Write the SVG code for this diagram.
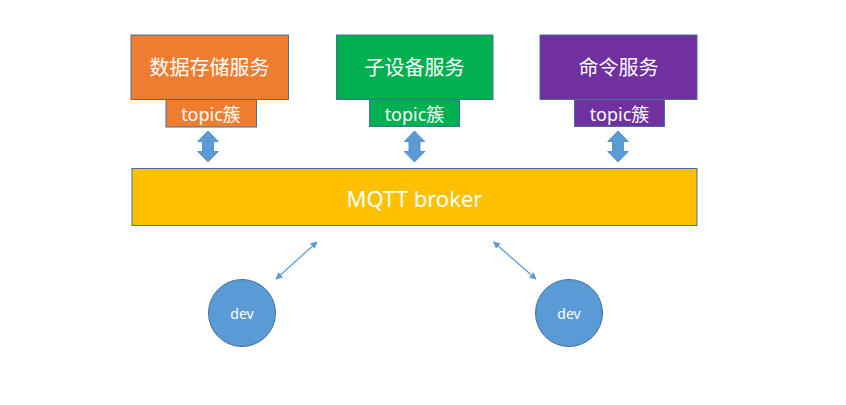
<svg xmlns="http://www.w3.org/2000/svg" width="846" height="405" viewBox="0 0 846 405">
<defs>
<style>
.box{stroke:#41719C;stroke-width:1}
.t{fill:#fff;font-family:"Noto Sans","Noto Sans CJK SC",sans-serif;text-anchor:middle;dominant-baseline:central}
.big{font-size:20px}
.tp{font-size:18px}
.dbl{fill:#5B9BD5;stroke:#4A85BE;stroke-width:0.8}
.thin{stroke:#5B9BD5;stroke-width:1.2;fill:none;marker-start:url(#ah);marker-end:url(#ah)}
</style>
<marker id="ah" viewBox="0 0 10 10" refX="9" refY="5" markerWidth="7" markerHeight="7" markerUnits="userSpaceOnUse" orient="auto-start-reverse">
<path d="M0,0 L10,5 L0,10 z" fill="#5B9BD5"/>
</marker>
<path id="dbla" d="M0,-15.5 L10.3,-5 L5.5,-5 L5.5,5 L10.3,5 L0,15.5 L-10.3,5 L-5.5,5 L-5.5,-5 L-10.3,-5 Z"/>
</defs>
<rect width="846" height="405" fill="#fff"/>
<g id="svc-storage">
<rect class="box" x="131" y="35" width="157.5" height="64.5" fill="#ED7D31"/>
<text class="t big" x="209.5" y="67.5">数据存储服务</text>
<rect class="box" x="166" y="99.5" width="90.5" height="27.5" fill="#ED7D31"/>
<text class="t tp" x="211" y="113.5">topic簇</text>
</g>
<g id="svc-subdevice">
<rect class="box" x="336.5" y="35" width="156.5" height="64.5" fill="#00B050"/>
<text class="t big" x="414.5" y="67.5">子设备服务</text>
<rect class="box" x="369.5" y="99.5" width="90" height="27" fill="#00B050"/>
<text class="t tp" x="414.5" y="113.5">topic簇</text>
</g>
<g id="svc-command">
<rect class="box" x="540" y="35" width="157" height="64.5" fill="#7030A0"/>
<text class="t big" x="618.5" y="67.5">命令服务</text>
<rect class="box" x="574.5" y="99.5" width="90" height="27" fill="#7030A0"/>
<text class="t tp" x="619.5" y="113.5">topic簇</text>
</g>
<g id="broker">
<rect class="box" x="132" y="168.5" width="565" height="57" fill="#FFC000"/>
<text class="t" x="414.5" y="197.5" font-size="22">MQTT broker</text>
</g>
<g id="dev1">
<circle cx="242" cy="313" r="33.5" fill="#5B9BD5" stroke="#41719C" stroke-width="1"/>
<text class="t" x="242" y="313" font-size="14">dev</text>
</g>
<g id="dev2">
<circle cx="569" cy="313" r="33.5" fill="#5B9BD5" stroke="#41719C" stroke-width="1"/>
<text class="t" x="569" y="313" font-size="14">dev</text>
</g>
<g id="connectors">
<use href="#dbla" class="dbl" x="208" y="146.5"/>
<use href="#dbla" class="dbl" x="414.5" y="146.5"/>
<use href="#dbla" class="dbl" x="618" y="146.5"/>
<line class="thin" x1="276" y1="279" x2="317" y2="242"/>
<line class="thin" x1="536" y1="279" x2="493.5" y2="242"/>
</g>
</svg>
